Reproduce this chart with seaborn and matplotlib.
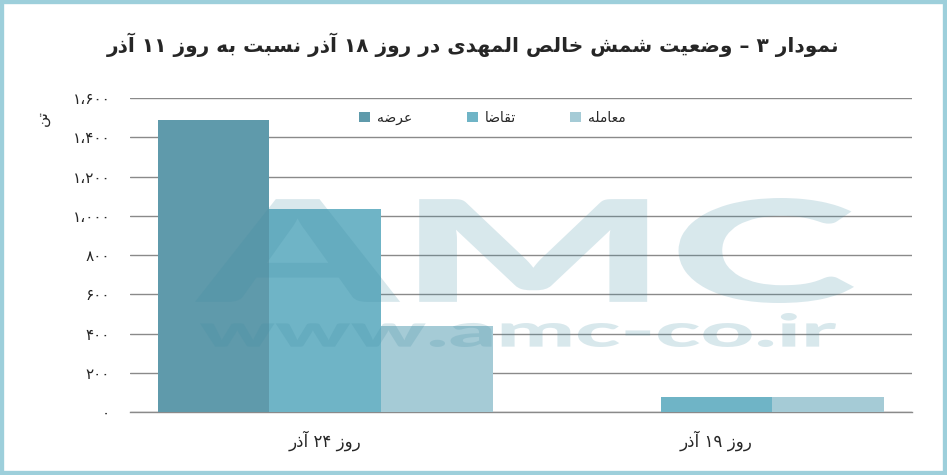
import re

import pandas as pd
import numpy as np

import matplotlib
matplotlib.use("Agg")
import matplotlib.pyplot as plt
from matplotlib.patches import Rectangle, PathPatch
from matplotlib.textpath import TextPath
from matplotlib.font_manager import FontProperties
from matplotlib.transforms import Affine2D
import seaborn as sns

# ==========================================
# DATA
# ==========================================

title = "نمودار ۳ – وضعیت شمش خالص المهدی در روز ۱۸ آذر نسبت به روز ۱۱ آذر"
unit_label = "تن"

categories = ["روز ۲۴ آذر", "روز ۱۹ آذر"]
series = ["عرضه", "تقاضا", "معامله"]

supply = [1488, 0]
demand = [1034, 76]
deal = [438, 76]

y_ticks = [0, 200, 400, 600, 800, 1000, 1200, 1400, 1600]

colors = ["#5f9aab", "#6fb4c6", "#a5cbd6"]

# ==========================================
# PERSIAN SHAPING (matplotlib has no shaping)
# ==========================================

# isolated, final, initial, medial
FORMS = {
    "ا": ("\uFE8D", "\uFE8E", None, None),
    "آ": ("\uFE81", "\uFE82", None, None),
    "ب": ("\uFE8F", "\uFE90", "\uFE91", "\uFE92"),
    "ت": ("\uFE95", "\uFE96", "\uFE97", "\uFE98"),
    "خ": ("\uFEA5", "\uFEA6", "\uFEA7", "\uFEA8"),
    "د": ("\uFEA9", "\uFEAA", None, None),
    "ذ": ("\uFEAB", "\uFEAC", None, None),
    "ر": ("\uFEAD", "\uFEAE", None, None),
    "ز": ("\uFEAF", "\uFEB0", None, None),
    "س": ("\uFEB1", "\uFEB2", "\uFEB3", "\uFEB4"),
    "ش": ("\uFEB5", "\uFEB6", "\uFEB7", "\uFEB8"),
    "ص": ("\uFEB9", "\uFEBA", "\uFEBB", "\uFEBC"),
    "ض": ("\uFEBD", "\uFEBE", "\uFEBF", "\uFEC0"),
    "ع": ("\uFEC9", "\uFECA", "\uFECB", "\uFECC"),
    "ق": ("\uFED5", "\uFED6", "\uFED7", "\uFED8"),
    "ل": ("\uFEDD", "\uFEDE", "\uFEDF", "\uFEE0"),
    "م": ("\uFEE1", "\uFEE2", "\uFEE3", "\uFEE4"),
    "ن": ("\uFEE5", "\uFEE6", "\uFEE7", "\uFEE8"),
    "ه": ("\uFEE9", "\uFEEA", "\uFEEB", "\uFEEC"),
    "و": ("\uFEED", "\uFEEE", None, None),
    "ی": ("\uFBFC", "\uFBFD", "\uFBFE", "\uFBFF"),
}


def dual(ch):
    return ch in FORMS and FORMS[ch][2] is not None


def shape(text):
    out = []
    for i, ch in enumerate(text):
        if ch not in FORMS:
            out.append(ch)
            continue
        prev = text[i - 1] if i > 0 else ""
        nxt = text[i + 1] if i + 1 < len(text) else ""
        join_prev = dual(prev)
        join_next = dual(ch) and nxt in FORMS
        iso, fin, ini, med = FORMS[ch]
        if join_prev and join_next:
            out.append(med)
        elif join_prev:
            out.append(fin)
        elif join_next:
            out.append(ini)
        else:
            out.append(iso)
    visual = "".join(out)[::-1]
    # keep digit runs left-to-right
    return re.sub(r"[۰-۹،]+", lambda m: m.group(0)[::-1], visual)


def fa_num(v):
    s = f"{v:,}"
    s = s.translate(str.maketrans("0123456789,", "۰۱۲۳۴۵۶۷۸۹،"))
    return s


# ==========================================
# TABLE
# ==========================================

df = pd.DataFrame({
    "category": [shape(c) for c in categories] * 3,
    "series": np.repeat([shape(s) for s in series], len(categories)),
    "value": supply + demand + deal,
})

# ==========================================
# STYLE
# ==========================================

sns.set_style("white")
plt.rcParams["font.family"] = ["DejaVu Sans"]

W, H = 947, 475

fig = plt.figure(figsize=(W / 100, H / 100), dpi=100)
ax = fig.add_axes([0.137, 0.1326, 0.826, 0.661])

sns.barplot(
    data=df,
    x="category",
    y="value",
    hue="series",
    palette=colors,
    width=0.857,
    saturation=1,
    edgecolor="none",
    ax=ax,
    zorder=3
)

ax.set_ylim(0, 1600)
ax.set_xlim(-0.5, 1.5)

ax.set_yticks(y_ticks)
ax.set_yticklabels([fa_num(v) for v in y_ticks], fontsize=11)
ax.yaxis.grid(True, color="#8a8a8a", linewidth=1, zorder=0)
ax.tick_params(axis="y", length=0, pad=14)

ax.tick_params(axis="x", which="major", length=0, pad=13, labelsize=12)
ax.set_xticks([-0.5, 0.5, 1.5], minor=True)
ax.tick_params(axis="x", which="minor", length=8, color="#8a8a8a", width=1)

for side in ["left", "right", "top"]:
    ax.spines[side].set_visible(False)
ax.spines["bottom"].set_color("#8a8a8a")
ax.spines["bottom"].set_linewidth(1)

ax.set_xlabel("")
ax.set_ylabel("")

# ==========================================
# LEGEND
# ==========================================

handles, labels = ax.get_legend_handles_labels()
ax.legend(
    handles,
    labels,
    ncol=3,
    loc="center",
    bbox_to_anchor=(0.52, 0.752),
    bbox_transform=fig.transFigure,
    frameon=False,
    fontsize=10,
    handlelength=0.8,
    handleheight=0.8,
    handletextpad=0.5,
    columnspacing=3.9
)

# ==========================================
# TEXTS
# ==========================================

fig.text(0.5, 0.905, shape(title), ha="center", va="center",
         fontsize=14.5, fontweight="bold")

fig.text(0.045, 0.752, shape(unit_label), ha="center", va="center",
         fontsize=11, rotation=90)


# watermark, stretched into its pixel box
def stamp(text, x0, x1, y_top, y_bot):
    tp = TextPath((0, 0), text, size=100,
                  prop=FontProperties(family=["Lato", "DejaVu Sans"],
                                      weight=900))
    ext = tp.get_extents()
    sx = (x1 - x0) / ext.width
    sy = (y_bot - y_top) / ext.height
    tr = (Affine2D()
          .translate(-ext.x0, -ext.y0)
          .scale(sx, sy)
          .translate(x0, H - y_bot))
    patch = PathPatch(tp, transform=tr, facecolor="#3f8ca3",
                      edgecolor="none", alpha=0.2, zorder=5)
    fig.add_artist(patch)


stamp("AMC", 195, 854, 198, 303)
stamp("www.amc-co.ir", 200, 836, 313, 347)

fig.patches.append(Rectangle((0, 0), 1, 1, transform=fig.transFigure,
                             fill=False, edgecolor="#9dcfdb", linewidth=6))

fig.savefig("out.png", dpi=100)
plt.close()
